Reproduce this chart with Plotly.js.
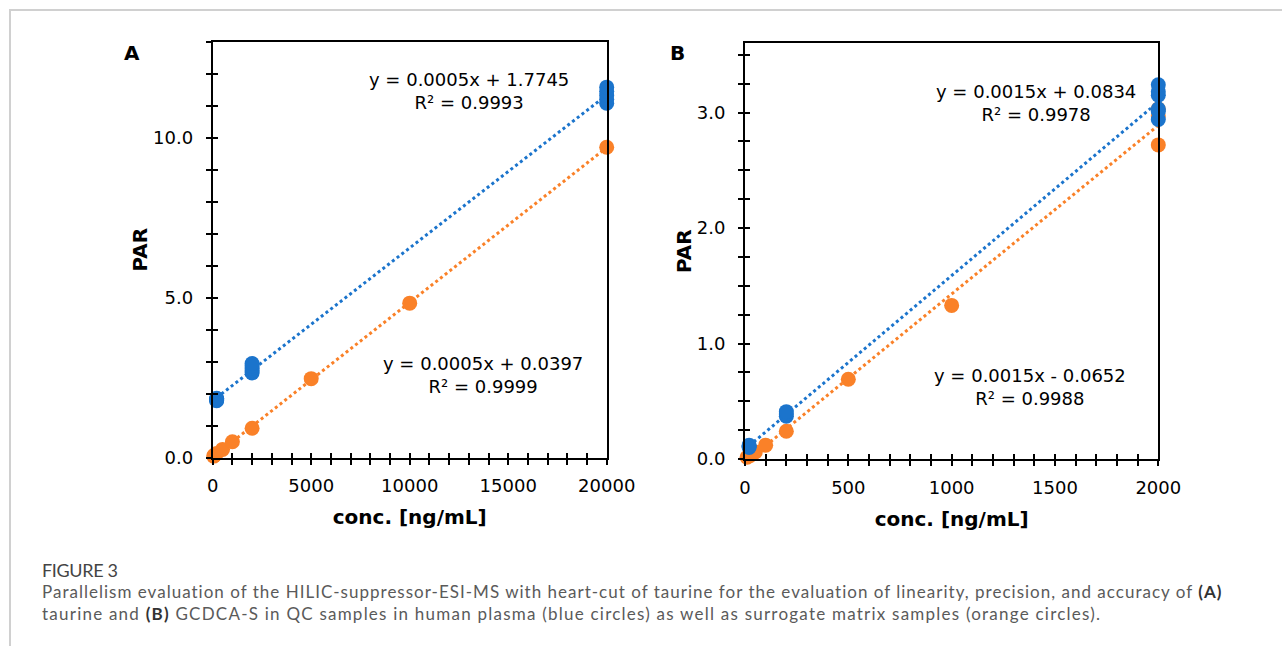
<!DOCTYPE html>
<html>
<head>
<meta charset="utf-8">
<script src="https://cdn.plot.ly/plotly-3.0.1.min.js"></script>
<style>
html,body{margin:0;padding:0;background:#fff;}
#wrap{position:relative;width:1282px;height:646px;overflow:hidden;background:#fff;}
#frame{position:absolute;left:9px;top:9px;width:1300px;height:660px;border-top:2px solid #d0d0d0;border-left:2px solid #d0d0d0;}
#chart{position:absolute;left:0;top:0;width:1282px;height:646px;}
.cap{position:absolute;left:42px;white-space:nowrap;font-family:Lato,'Noto Sans',sans-serif;color:#5a5a5a;font-size:17px;line-height:22px;}
.cap b{color:#333;}
</style>
</head>
<body>
<div id="wrap">
  <div id="frame"></div>
  <div id="chart"></div>
  <div class="cap" id="figlabel" style="top:559px;color:#444;font-size:18px;" data-target="76">FIGURE 3</div>
  <div class="cap" id="cap1" style="top:581px;" data-target="1180">Parallelism evaluation of the HILIC-suppressor-ESI-MS with heart-cut of taurine for the evaluation of linearity, precision, and accuracy of <b>(A)</b></div>
  <div class="cap" id="cap2" style="top:603px;" data-target="1058">taurine and <b>(B)</b> GCDCA-S in QC samples in human plasma (blue circles) as well as surrogate matrix samples (orange circles).</div>
</div>
<script>
// ---------- data ----------
// Panel A: taurine
const concA_plasma = [200, 200, 200, 200, 200, 2000, 2000, 2000, 2000, 2000, 20000, 20000, 20000, 20000, 20000];
const parA_plasma  = [1.78, 1.80, 1.82, 1.84, 1.86, 2.65, 2.72, 2.80, 2.87, 2.94, 11.08, 11.20, 11.32, 11.45, 11.58];
const concA_surrogate = [50, 100, 200, 500, 1000, 2000, 5000, 10000, 20000];
const parA_surrogate  = [0.05, 0.08, 0.13, 0.26, 0.50, 0.92, 2.47, 4.83, 9.70];
// Panel B: GCDCA-S
const concB_plasma = [20, 20, 20, 200, 200, 200, 2000, 2000, 2000, 2000, 2000, 2000];
const parB_plasma  = [0.10, 0.11, 0.12, 0.37, 0.39, 0.41, 2.94, 3.01, 3.03, 3.15, 3.18, 3.24];
const concB_surrogate = [10, 25, 50, 100, 200, 500, 1000, 2000, 2000, 2000];
const parB_surrogate  = [0.015, 0.03, 0.06, 0.12, 0.24, 0.69, 1.33, 2.72, 2.97, 3.03];
// Trendline labels shown on the figure
const eqA_plasma    = ["y = 0.0005x + 1.7745", "R² = 0.9993"];
const eqA_surrogate = ["y = 0.0005x + 0.0397", "R² = 0.9999"];
const eqB_plasma    = ["y = 0.0015x + 0.0834", "R² = 0.9978"];
const eqB_surrogate = ["y = 0.0015x - 0.0652", "R² = 0.9988"];
const panelLabels = ["A", "B"];
const xTitle = "conc. [ng/mL]";
const yTitle = "PAR";

// ---------- styling ----------
const BLUE = "#1b74cc";
const ORANGE = "#fa8128";
const W = 1282, H = 646;
const px = v => v / W;
const py = v => 1 - v / H;
const FONT = "DejaVu Sans";

function linfit(xs, ys) {
  const n = xs.length;
  const mx = xs.reduce((a, b) => a + b, 0) / n;
  const my = ys.reduce((a, b) => a + b, 0) / n;
  let sxx = 0, sxy = 0;
  for (let i = 0; i < n; i++) { sxx += (xs[i] - mx) ** 2; sxy += (xs[i] - mx) * (ys[i] - my); }
  const m = sxy / sxx, b = my - m * mx;
  const x0 = Math.min(...xs), x1 = Math.max(...xs);
  return { x: [x0, x1], y: [m * x0 + b, m * x1 + b] };
}

function trend(xs, ys, color, xa, ya) {
  const f = linfit(xs, ys);
  return { type: "scatter", mode: "lines", x: f.x, y: f.y, xaxis: xa, yaxis: ya,
    line: { color: color, width: 3, dash: "3px,3px" }, showlegend: false, hoverinfo: "skip" };
}
function pts(xs, ys, color, xa, ya) {
  return { type: "scatter", mode: "markers", x: xs, y: ys, xaxis: xa, yaxis: ya, cliponaxis: false,
    marker: { color: color, size: 15, line: { width: 0 } }, showlegend: false };
}
function dummy(xa, ya) {
  return { type: "scatter", x: [], y: [], xaxis: xa, yaxis: ya, showlegend: false, hoverinfo: "skip" };
}

const data = [
  trend(concA_surrogate, parA_surrogate, ORANGE, "x", "y"),
  trend(concA_plasma, parA_plasma, BLUE, "x", "y"),
  pts(concA_surrogate, parA_surrogate, ORANGE, "x", "y"),
  pts(concA_plasma, parA_plasma, BLUE, "x", "y"),
  trend(concB_surrogate, parB_surrogate, ORANGE, "x2", "y2"),
  trend(concB_plasma, parB_plasma, BLUE, "x2", "y2"),
  pts(concB_surrogate, parB_surrogate, ORANGE, "x2", "y2"),
  pts(concB_plasma, parB_plasma, BLUE, "x2", "y2"),
  dummy("x3", "y"), dummy("x", "y3"), dummy("x4", "y2"), dummy("x2", "y4")
];

const tickFont = { family: FONT, size: 18, color: "#000" };
const titleFont = { family: FONT, size: 20, color: "#000" };

function mainX(domain, anchor, range, dtick, minor) {
  return { domain: domain, anchor: anchor, range: range, dtick: dtick, tick0: 0, tickformat: "d",
    ticks: "outside", ticklen: 5, tickwidth: 2, tickcolor: "#000",
    minor: { dtick: minor, tick0: 0, ticks: "outside", ticklen: 5, tickwidth: 2, tickcolor: "#000", showgrid: false },
    showline: true, linewidth: 2, linecolor: "#000", mirror: true, showgrid: false, zeroline: false,
    tickfont: tickFont, ticklabelstandoff: 6, fixedrange: true,
    title: { text: "<b>" + xTitle + "</b>", font: titleFont, standoff: 15 } };
}
function mainY(domain, anchor, range, dtick, minor) {
  return { domain: domain, anchor: anchor, range: range, dtick: dtick, tick0: 0, tickformat: ".1f",
    ticks: "outside", ticklen: 5, tickwidth: 2, tickcolor: "#000",
    minor: { dtick: minor, tick0: 0, ticks: "outside", ticklen: 5, tickwidth: 2, tickcolor: "#000", showgrid: false },
    showline: true, linewidth: 2, linecolor: "#000", mirror: true, showgrid: false, zeroline: false,
    tickfont: tickFont, ticklabelstandoff: 9, fixedrange: true,
    title: { text: "<b>" + yTitle + "</b>", font: titleFont, standoff: 0 } };
}
function innerAx(over, anchor, range, dtick) {
  return { overlaying: over, anchor: anchor, range: range, dtick: dtick, tick0: 0,
    ticks: "inside", ticklen: 5, tickwidth: 2, tickcolor: "#000", showticklabels: false,
    showline: false, showgrid: false, zeroline: false, fixedrange: true };
}

const domAx = [px(212.7), px(606.7)], domAy = [py(457.7), py(41.7)];
const domBx = [px(745), px(1158.3)], domBy = [py(459), py(43.3)];

function eqAnn(lines, x, y) {
  return { xref: "paper", yref: "paper", x: px(x), y: py(y), xanchor: "center", yanchor: "middle",
    align: "center", showarrow: false, text: lines.join("<br>"), font: { family: FONT, size: 18, color: "#000" } };
}
function letterAnn(t, x, y) {
  return { xref: "paper", yref: "paper", x: px(x), y: py(y), xanchor: "center", yanchor: "middle",
    showarrow: false, text: "<b>" + t + "</b>", font: { family: FONT, size: 20, color: "#000" } };
}

const layout = {
  width: W, height: H, margin: { l: 0, r: 0, t: 0, b: 0 },
  paper_bgcolor: "rgba(0,0,0,0)", plot_bgcolor: "rgba(0,0,0,0)",
  showlegend: false,
  xaxis: mainX(domAx, "y", [0, 20000], 5000, 1000),
  yaxis: mainY(domAy, "x", [0, 13], 5, 1),
  xaxis2: mainX(domBx, "y2", [0, 2000], 500, 100),
  yaxis2: mainY(domBy, "x2", [0, 3.6], 1, 0.25),
  xaxis3: innerAx("x", "y", [0, 20000], 1000),
  yaxis3: innerAx("y", "x", [0, 13], 1),
  xaxis4: innerAx("x2", "y2", [0, 2000], 100),
  yaxis4: innerAx("y2", "x2", [0, 3.6], 0.25),
  annotations: [
    eqAnn(eqA_plasma, 469, 90.5),
    eqAnn(eqA_surrogate, 483, 375),
    eqAnn(eqB_plasma, 1035.5, 102.5),
    eqAnn(eqB_surrogate, 1030, 386.5),
    letterAnn(panelLabels[0], 132, 53),
    letterAnn(panelLabels[1], 677, 53)
  ]
};

Plotly.newPlot("chart", data, layout, { staticPlot: true, displayModeBar: false });

function fitCaptions() {
  document.querySelectorAll(".cap").forEach(el => {
    el.style.letterSpacing = "0px";
    const target = parseFloat(el.dataset.target);
    const w = el.getBoundingClientRect().width;
    const n = el.textContent.length;
    if (n > 1) el.style.letterSpacing = ((target - w) / (n - 1)).toFixed(3) + "px";
  });
}
fitCaptions();
if (document.fonts && document.fonts.ready) document.fonts.ready.then(fitCaptions);
</script>
</body>
</html>
